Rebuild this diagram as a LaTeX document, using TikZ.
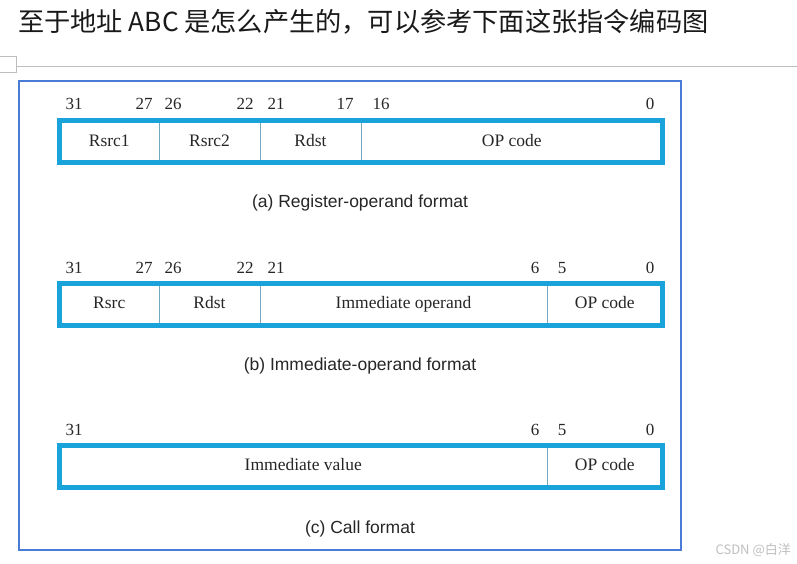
\documentclass[tikz,border=0pt]{standalone}
\usepackage{fontspec}
\setmainfont{Liberation Serif}
\newfontfamily\capfont{Liberation Sans}
\newfontfamily\cjk{Noto Sans CJK SC}
\usetikzlibrary{positioning}
\definecolor{framecolor}{HTML}{4A7BD6}
\definecolor{boxcolor}{HTML}{1AA3DB}
\definecolor{divcolor}{HTML}{6FA8C0}
\definecolor{rulecolor}{HTML}{BDBDBD}

\begin{document}
\begin{tikzpicture}[
    x=1pt, y=-1pt,
    field/.style={rectangle, draw=divcolor, line width=0.8pt, minimum height=42,
                  inner sep=0pt, outer sep=0pt, text=black!85,
                  text height=12pt, text depth=3.5pt,
                  font=\fontsize{17.5}{20}\selectfont},
    border/.style={draw=boxcolor, line width=5pt},
    bitnum/.style={inner sep=0pt, text=black!85, font=\fontsize{17}{20}\selectfont},
    caption/.style={inner sep=0pt, text=black!85, font=\capfont\fontsize{17.5}{20}\selectfont}
]
    \useasboundingbox (0,0) rectangle (797,564);

    % heading and page furniture
    \node[anchor=west, inner sep=0pt, text=black!90, font=\cjk\fontsize{26.2}{29}\selectfont] (title)
        at (18,22) {至于地址 ABC 是怎么产生的，可以参考下面这张指令编码图};
    \draw[rulecolor, line width=1pt] (-1,57) rectangle (16,73);
    \draw[rulecolor, line width=1pt] (16,67) -- (797,67);
    \draw[framecolor, line width=2pt] (19,81) rectangle (681,550);

    % (a) register-operand format
    \node[field, minimum width=99.5] (a1) at (109.25,142) {Rsrc1};
    \node[field, minimum width=101, right=0pt of a1] (a2) {Rsrc2};
    \node[field, minimum width=101, right=0pt of a2] (a3) {Rdst};
    \node[field, minimum width=301.5, right=0pt of a3] (a4) {OP code};
    \draw[border] (a1.north west) rectangle (a4.south east);
    \node[bitnum] at (74,104) {31};
    \node[bitnum] at (144,104) {27};
    \node[bitnum] at (173,104) {26};
    \node[bitnum] at (245,104) {22};
    \node[bitnum] at (276,104) {21};
    \node[bitnum] at (345,104) {17};
    \node[bitnum] at (381,104) {16};
    \node[bitnum] at (650,104) {0};
    \node[caption] (capa) at (360,203) {(a) Register-operand format};

    % (b) immediate-operand format
    \node[field, minimum width=99.5] (b1) at (109.25,304) {Rsrc};
    \node[field, minimum width=101, right=0pt of b1] (b2) {Rdst};
    \node[field, minimum width=287, right=0pt of b2] (b3) {Immediate operand};
    \node[field, minimum width=115.5, right=0pt of b3] (b4) {OP code};
    \draw[border] (b1.north west) rectangle (b4.south east);
    \node[bitnum] at (74,268) {31};
    \node[bitnum] at (144,268) {27};
    \node[bitnum] at (173,268) {26};
    \node[bitnum] at (245,268) {22};
    \node[bitnum] at (276,268) {21};
    \node[bitnum] at (535,268) {6};
    \node[bitnum] at (562,268) {5};
    \node[bitnum] at (650,268) {0};
    \node[caption] (capb) at (360,366) {(b) Immediate-operand format};

    % (c) call format
    \node[field, minimum width=487.5] (c1) at (303.25,466) {Immediate value};
    \node[field, minimum width=115.5, right=0pt of c1] (c2) {OP code};
    \draw[border] (c1.north west) rectangle (c2.south east);
    \node[bitnum] at (74,430) {31};
    \node[bitnum] at (535,430) {6};
    \node[bitnum] at (562,430) {5};
    \node[bitnum] at (650,430) {0};
    \node[caption] (capc) at (360,529) {(c) Call format};

    \node[anchor=east, inner sep=0pt, text=black!25, font=\cjk\fontsize{13}{15}\selectfont] (mark)
        at (791,550) {CSDN @白洋};
\end{tikzpicture}
\end{document}
